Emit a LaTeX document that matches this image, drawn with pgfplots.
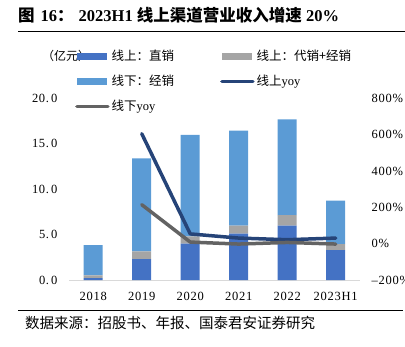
\documentclass[border=0pt]{standalone}
\usepackage{fontspec}
\setmainfont{Liberation Serif}
\newfontfamily\cjk{Noto Sans CJK SC}
\newfontfamily\numf[LetterSpace=6]{Liberation Serif}
\usepackage{pgfplots}
\pgfplotsset{compat=1.18}
\definecolor{cA}{HTML}{4472C4}
\definecolor{cB}{HTML}{A5A5A5}
\definecolor{cC}{HTML}{5B9BD5}
\definecolor{cD}{HTML}{264478}
\definecolor{cE}{HTML}{636363}
\begin{document}
\begin{tikzpicture}
\useasboundingbox (0,0) rectangle (405pt,-346pt);
\node[anchor=west, inner sep=0] at (18pt,-15pt) {\fontsize{16.5}{19}\selectfont\bfseries{\cjk 图}\hspace{6pt}16{\cjk ：}\hspace{5pt}2023H1 {\cjk 线上渠道营业收入增速} 20\%};
\draw[line width=1pt] (18pt,-31pt) -- (405pt,-31pt);
\draw[line width=1.2pt] (18pt,-310.7pt) -- (403pt,-310.7pt);
\node[anchor=west, inner sep=0] at (25pt,-323pt) {\cjk\fontsize{14.5}{16}\selectfont 数据来源：招股书、年报、国泰君安证券研究};
\node[anchor=west, inner sep=0] at (42pt,-56pt) {\cjk\fontsize{12}{15}\selectfont （亿元）};
\begin{axis}[
 at={(69pt,-280pt)}, anchor=south west, scale only axis, width=291pt, height=181.5pt,
 ybar stacked, bar width=19pt,
 xmin=-0.5, xmax=5.5, ymin=0, ymax=20,
 xtick={0,...,5}, xticklabels={2018,2019,2020,2021,2022,2023H1},
 ytick={0,5,10,15,20}, yticklabels={0.\,0,5.\,0,10.\,0,15.\,0,20.\,0},
 axis x line*=bottom, axis y line*=left,
 x axis line style={-, draw=black!15, line width=1pt},
 y axis line style={draw=none},
 major tick length=0pt,
 tick label style={font=\numf\fontsize{12.5}{15}\selectfont},
 yticklabel style={xshift=-8pt},
 xticklabel style={yshift=-9pt},
]
\addplot[fill=cA, draw=none] coordinates {(0,0.2) (1,2.3) (2,4.0) (3,5.1) (4,6.0) (5,3.3)};
\addplot[fill=cB, draw=none] coordinates {(0,0.3) (1,0.85) (2,0.8) (3,0.9) (4,1.15) (5,0.65)};
\addplot[fill=cC, draw=none] coordinates {(0,3.35) (1,10.25) (2,11.2) (3,10.45) (4,10.55) (5,4.8)};
\end{axis}
\begin{axis}[
 at={(69pt,-280pt)}, anchor=south west, scale only axis, width=291pt, height=181.5pt,
 xmin=-0.5, xmax=5.5, ymin=-200, ymax=800,
 axis x line=none, axis y line*=right, y axis line style={draw=none},
 ytick={-200,0,200,400,600,800}, yticklabels={\textendash200\%,0\%,200\%,400\%,600\%,800\%},
 major tick length=0pt,
 tick label style={font=\numf\fontsize{12.5}{15}\selectfont},
 yticklabel style={xshift=8pt},
 legend columns=2,
 legend cell align=left,
 legend style={draw=none, fill=none, at={(0.0206,1.278)}, anchor=north west,
   font=\cjk\fontsize{12.5}{15}\selectfont, inner sep=0pt, row sep=9pt,
   /tikz/every even column/.append style={column sep=44pt}},
]
\addlegendimage{legend image code/.code={\fill[cA] (0pt,-3pt) rectangle (29pt,3pt);}}
\addlegendimage{legend image code/.code={\fill[cB] (0pt,-3pt) rectangle (29pt,3pt);}}
\addlegendimage{legend image code/.code={\fill[cC] (0pt,-3pt) rectangle (29pt,3pt);}}
\addlegendimage{legend image code/.code={\draw[cD, line width=3.5pt, line cap=round] (0pt,0pt) -- (31pt,0pt);}}
\addlegendimage{legend image code/.code={\draw[cE, line width=3.5pt, line cap=round] (0pt,0pt) -- (31pt,0pt);}}
\addplot[cD, line width=3.5pt, line cap=round, line join=round] coordinates {(1,606) (2,54) (3,31) (4,22) (5,31)};
\addplot[cE, line width=3.5pt, line cap=round, line join=round] coordinates {(1,215) (2,9) (3,-2) (4,7) (5,-2)};
\legend{线上：直销, 线上：代销+经销, 线下：经销, 线上{\rmfamily yoy}, 线下{\rmfamily yoy}}
\end{axis}
\end{tikzpicture}
\end{document}
